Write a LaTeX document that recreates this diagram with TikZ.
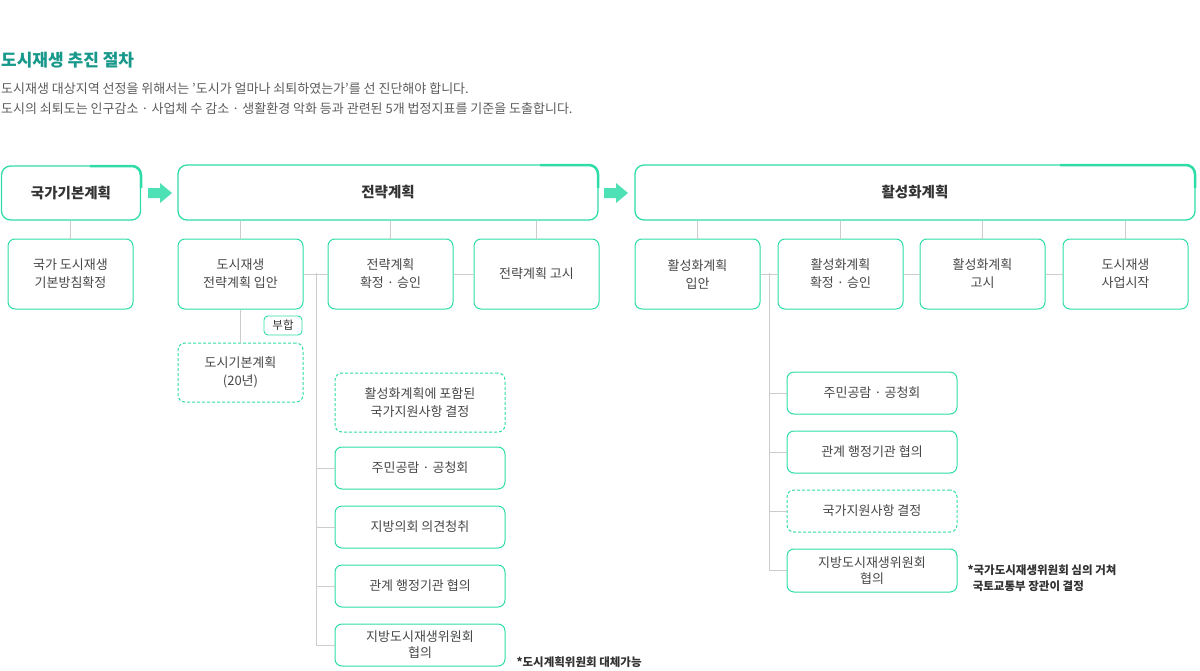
\documentclass[tikz,border=0pt]{standalone}
\usepackage{fontspec}
\setmainfont{Noto Sans CJK KR}
\usetikzlibrary{arrows.meta}
\definecolor{mint}{HTML}{2FDCA8}
\definecolor{teal}{HTML}{17988A}
\definecolor{txt}{HTML}{333333}
\definecolor{ln}{HTML}{CCCCCC}
\tikzset{
  head/.style={draw=mint, line width=1.3pt, rounded corners=9pt, fill=white, font=\bfseries\fontsize{14.5}{17}\selectfont, text=txt},
  sub/.style={draw=mint, line width=1pt, rounded corners=7pt, fill=white, align=center, font=\fontsize{13}{18}\selectfont, text=txt!90},
  dsub/.style={sub, densely dashed},
  conn/.style={draw=ln, line width=0.8pt},
  note/.style={font=\bfseries\fontsize{11.5}{16}\selectfont, text=txt, anchor=west, align=left},
}
\begin{document}
\begin{tikzpicture}[x=1pt, y=-1pt]
\useasboundingbox (0,0) rectangle (1200,670);
% title
\node[anchor=west, text=teal, font=\bfseries\fontsize{17}{20}\selectfont, inner sep=0pt] (ttl) at (1,60) {도시재생 추진 절차};
\node[anchor=west, text=txt!80, font=\fontsize{13}{20}\selectfont, align=left, inner sep=0pt] (dsc) at (1,99)
  {도시재생 대상지역 선정을 위해서는 '도시가 얼마나 쇠퇴하였는가'를 선 진단해야 합니다.\\도시의 쇠퇴도는 인구감소 · 사업체 수 감소 · 생활환경 악화 등과 관련된 5개 법정지표를 기준을 도출합니다.};
% headers
\node[head, minimum width=139pt, minimum height=54pt] (h1) at (71,193) {국가기본계획};
\node[head, minimum width=420pt, minimum height=55pt] (h2) at (388,192.5) {전략계획};
\node[head, minimum width=560pt, minimum height=55pt] (h3) at (915,192.5) {활성화계획};
\draw[mint, line width=2.5pt] (90,166) -- (132,166) arc(-90:0:9) -- (141,188);
\draw[mint, line width=2.5pt] (540,165) -- (589,165) arc(-90:0:9) -- (598,188);
\draw[mint, line width=2.5pt] (1060,165) -- (1186,165) arc(-90:0:9) -- (1195,188);
% arrows
\foreach \ax in {148,604}
  \fill[mint!85] (\ax,188) -- (\ax+12,188) -- (\ax+12,183) -- (\ax+24,193) -- (\ax+12,203) -- (\ax+12,198) -- (\ax,198) -- cycle;
% sub boxes
\node[sub, minimum width=125pt, minimum height=70pt] (a1) at (70.5,274) {국가 도시재생\\기본방침확정};
\node[sub, minimum width=125pt, minimum height=70pt] (b1) at (240.5,274) {도시재생\\전략계획 입안};
\node[sub, minimum width=125pt, minimum height=70pt] (b2) at (390.5,274) {전략계획\\확정 · 승인};
\node[sub, minimum width=125pt, minimum height=70pt] (b3) at (536.5,274) {전략계획 고시};
\node[sub, minimum width=125pt, minimum height=70pt] (c1) at (697.5,274) {활성화계획\\입안};
\node[sub, minimum width=125pt, minimum height=70pt] (c2) at (840.5,274) {활성화계획\\확정 · 승인};
\node[sub, minimum width=125pt, minimum height=70pt] (c3) at (982.5,274) {활성화계획\\고시};
\node[sub, minimum width=125pt, minimum height=70pt] (c4) at (1125.5,274) {도시재생\\사업시작};
\foreach \s/\d in {h1/a1, h2/b1, h2/b2, h2/b3, h3/c1, h3/c2, h3/c3, h3/c4}
  \draw[conn] (\s.south -| \d.north) -- (\d.north);
\draw[conn] (b1.east) -- (b2.west);
\draw[conn] (b2.east) -- (b3.west);
\draw[conn] (c1.east) -- (c2.west);
\draw[conn] (c2.east) -- (c3.west);
\draw[conn] (c3.east) -- (c4.west);
% 부합
\node[dsub, minimum width=125pt, minimum height=59pt] (b0) at (240.5,372.5) {도시기본계획\\(20년)};
\draw[conn] (b1.south) -- (b0.north);
\node[draw=mint, line width=0.9pt, rounded corners=4pt, fill=white, text=txt, font=\fontsize{11.5}{13}\selectfont, inner sep=1pt, minimum width=38pt, minimum height=19pt] (tag) at (283,325.5) {부합};
% left column
\node[dsub, minimum width=170pt, minimum height=59pt] (l1) at (420,402.5) {활성화계획에 포함된\\국가지원사항 결정};
\node[sub, minimum width=170pt, minimum height=42pt] (l2) at (420,468) {주민공람 · 공청회};
\node[sub, minimum width=170pt, minimum height=42pt] (l3) at (420,527) {지방의회 의견청취};
\node[sub, minimum width=170pt, minimum height=42pt] (l4) at (420,586) {관계 행정기관 협의};
\node[sub, minimum width=170pt, minimum height=42pt, font=\fontsize{13}{16}\selectfont] (l5) at (420,645) {지방도시재생위원회\\협의};
\coordinate (lt) at (316,273);
\draw[conn] (lt) |- (l5.west);
\foreach \n in {l2,l3,l4} \draw[conn] (lt |- \n.west) -- (\n.west);
% right column
\node[sub, minimum width=170pt, minimum height=42pt] (r1) at (872,393) {주민공람 · 공청회};
\node[sub, minimum width=170pt, minimum height=42pt] (r2) at (872,452) {관계 행정기관 협의};
\node[dsub, minimum width=170pt, minimum height=42pt] (r3) at (872,511) {국가지원사항 결정};
\node[sub, minimum width=170pt, minimum height=43pt, font=\fontsize{13}{16}\selectfont] (r4) at (872,570.5) {지방도시재생위원회\\협의};
\coordinate (rt) at (769,273);
\draw[conn] (rt) |- (r4.west);
\foreach \n in {r1,r2,r3} \draw[conn] (rt |- \n.west) -- (\n.west);
% notes
\node[note] (n1) at (513,662) {*도시계획위원회 대체가능};
\node[note] (n2) at (964,578) {*국가도시재생위원회 심의 거쳐\\\ \ 국토교통부 장관이 결정};
\end{tikzpicture}
\end{document}
